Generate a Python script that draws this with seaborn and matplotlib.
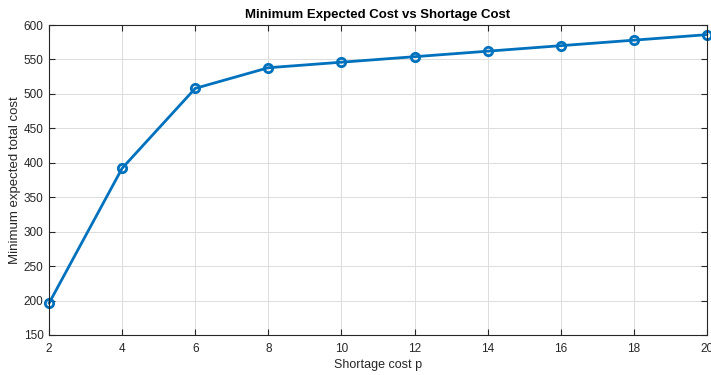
import matplotlib
matplotlib.use("Agg")
import matplotlib.pyplot as plt
import seaborn as sns
import pandas as pd

# Shortage cost p and the resulting minimum expected total cost
shortage_cost = [2, 4, 6, 8, 10, 12, 14, 16, 18, 20]
min_expected_cost = [196, 392, 508, 538, 546, 554, 562, 570, 578, 586]

x_ticks = [2, 4, 6, 8, 10, 12, 14, 16, 18, 20]
y_ticks = [150, 200, 250, 300, 350, 400, 450, 500, 550, 600]

sns.set_theme(style="white")
plt.rcParams["font.family"] = ["Liberation Sans", "DejaVu Sans"]

df = pd.DataFrame({"p": shortage_cost, "cost": min_expected_cost})

fig = plt.figure(figsize=(7.11, 3.75), dpi=100)
ax = fig.add_axes([0.0689, 0.1067, 0.9255, 0.8266])

line_color = "#0072BD"
sns.lineplot(data=df, x="p", y="cost", ax=ax, color=line_color, linewidth=2,
             marker="o", markersize=6, markerfacecolor="none",
             markeredgecolor=line_color, markeredgewidth=2, clip_on=False)

ax.set_xlim(2, 20)
ax.set_ylim(150, 600)
ax.set_xticks(x_ticks)
ax.set_yticks(y_ticks)

tick_gray = "#262626"
ax.tick_params(axis="both", which="both", direction="in", length=4, width=0.8,
               colors=tick_gray, labelsize=8.5, top=True, right=True,
               bottom=True, left=True)
ax.tick_params(axis="x", pad=6)
ax.tick_params(axis="y", pad=4)

ax.grid(True, color="#dcdcdc", linewidth=0.7)
ax.set_axisbelow(True)
for side in ["top", "right", "bottom", "left"]:
    ax.spines[side].set_visible(True)
    ax.spines[side].set_color(tick_gray)
    ax.spines[side].set_linewidth(0.8)

ax.set_xlabel("Shortage cost p", fontsize=9, color=tick_gray, labelpad=3)
ax.set_ylabel("Minimum expected total cost", fontsize=9.5, color=tick_gray, labelpad=1.5)
ax.set_title("Minimum Expected Cost vs Shortage Cost", fontsize=9.5,
             fontweight="bold", color="black", pad=5)

fig.savefig("out.png", dpi=100)
